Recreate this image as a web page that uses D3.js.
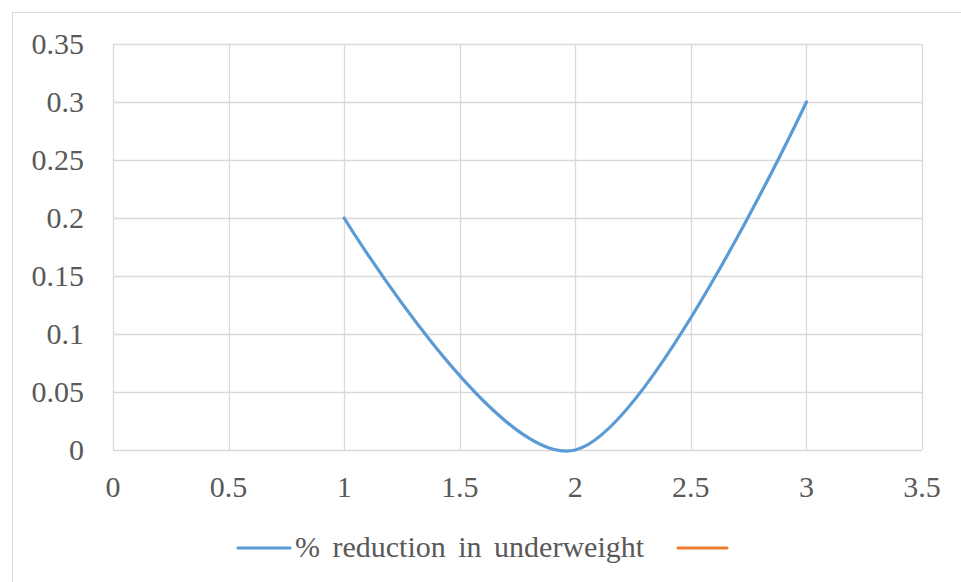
<!DOCTYPE html>
<html><head><meta charset="utf-8">
<script src="https://cdn.jsdelivr.net/npm/d3@7/dist/d3.min.js"></script>
<style>body{margin:0;background:#fff}svg{display:block}</style>
</head><body>
<script>
const xValues = [1, 2, 3];
const yValues = [0.2, 0, 0.3];
const seriesNames = ["% reduction in underweight", ""];
const xTicks = [0, 0.5, 1, 1.5, 2, 2.5, 3, 3.5];
const yTicks = [0, 0.05, 0.1, 0.15, 0.2, 0.25, 0.3, 0.35];

const W = 961, H = 582;
const svg = d3.select("body").append("svg").attr("width", W).attr("height", H);
svg.append("rect").attr("x", 12.5).attr("y", 12.5).attr("width", W).attr("height", H)
  .attr("fill", "#fff").attr("stroke", "#d9d9d9");

const x = d3.scaleLinear().domain([0, 3.5]).range([113, 922]);
const y = d3.scaleLinear().domain([0, 0.35]).range([450, 44]);
const font = "'Liberation Serif', 'Times New Roman', serif";
const tc = "#595959";
const fs = 30;

const g = svg.append("g");
g.selectAll(".vg").data(xTicks).join("line")
  .attr("x1", d => Math.round(x(d)) + 0.5).attr("x2", d => Math.round(x(d)) + 0.5)
  .attr("y1", y(0)).attr("y2", y(0.35)).attr("stroke", "#d9d9d9").attr("stroke-width", 1.3);
g.selectAll(".hg").data(yTicks).join("line")
  .attr("y1", d => Math.round(y(d)) + 0.5).attr("y2", d => Math.round(y(d)) + 0.5)
  .attr("x1", x(0)).attr("x2", x(3.5)).attr("stroke", "#d9d9d9").attr("stroke-width", 1.3);

g.selectAll(".xl").data(xTicks).join("text")
  .attr("x", d => x(d)).attr("y", 497).attr("text-anchor", "middle")
  .attr("font-family", font).attr("font-size", fs).attr("fill", tc).text(d => d);
g.selectAll(".yl").data(yTicks).join("text")
  .attr("x", 84).attr("y", d => y(d) + 10).attr("text-anchor", "end")
  .attr("font-family", font).attr("font-size", fs).attr("fill", tc).text(d => d);

const pts = xValues.map((v, i) => [v, yValues[i]]);
const line = d3.line().x(d => x(d[0])).y(d => y(d[1])).curve(d3.curveCatmullRom.alpha(0));
svg.append("path").attr("d", line(pts)).attr("fill", "none")
  .attr("stroke", "#5b9bd5").attr("stroke-width", 3.2).attr("stroke-linecap", "round");

// legend
const lg = svg.append("g");
lg.append("line").attr("x1", 238).attr("x2", 290).attr("y1", 548).attr("y2", 548)
  .attr("stroke", "#5b9bd5").attr("stroke-width", 3.2).attr("stroke-linecap", "round");
lg.append("text").attr("x", 295).attr("y", 557).attr("font-family", font).attr("font-size", fs)
  .attr("word-spacing", 5).attr("fill", tc).text(seriesNames[0]);
lg.append("line").attr("x1", 678).attr("x2", 727).attr("y1", 548).attr("y2", 548)
  .attr("stroke", "#ed7d31").attr("stroke-width", 3.2).attr("stroke-linecap", "round");
</script>
</body></html>
